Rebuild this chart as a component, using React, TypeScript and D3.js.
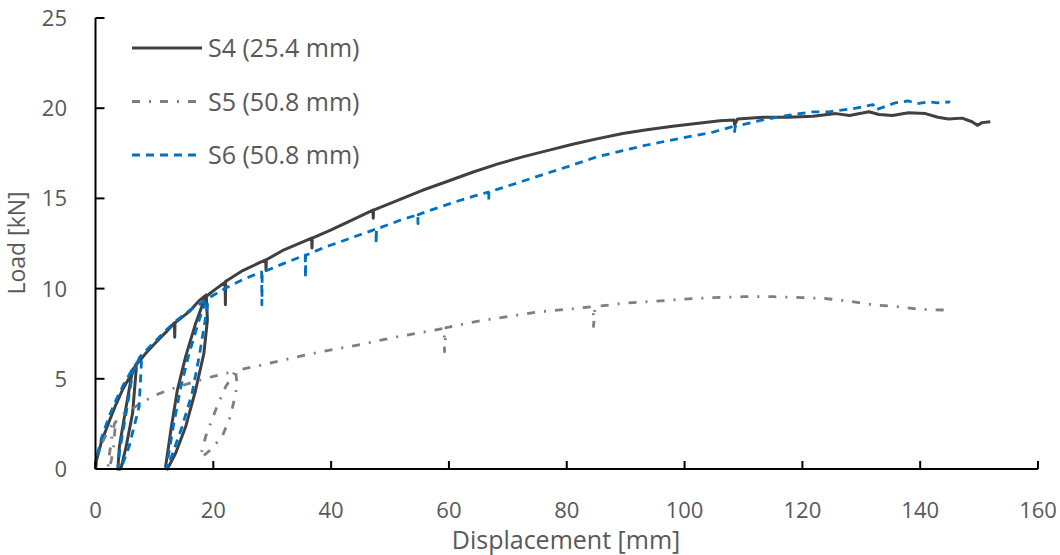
import React from "react";
import * as d3 from "d3";

// displacement [mm], load [kN]
const s4: [number, number][] = [
  [0, 0], [0.1, 0.4], [1.0, 1.5], [2.4, 2.7], [3.5, 3.6], [4.6, 4.4], [5.8, 5.1], [6.9, 5.7],
  [6.9, 5.5], [6.3, 3.1], [5.2, 1.24], [4.3, 0],
  [3.8, 0], [4.05, 1.24], [5.2, 3.45], [6.3, 5.5], [7.0, 5.8],
  [8.5, 6.4], [10.2, 7.0], [12, 7.6], [13.4, 8.1], [13.45, 7.3], [13.5, 8.1], [15.9, 8.72], [17.5, 9.3], [18.8, 9.65],
  [19.0, 8.26], [18.4, 6.41], [17.0, 4.38], [15.3, 2.34], [13.6, 0.87], [12.2, 0],
  [11.9, 0.13], [12.8, 2.16], [13.9, 4.38], [15.3, 6.23], [17.0, 8.07], [18.6, 9.5], [19.3, 9.7],
  [20.5, 10.0], [22.0, 10.35], [22.05, 9.1], [22.1, 10.4], [22.6, 10.5], [25, 11.0], [28.9, 11.6], [28.95, 11.0],
  [29, 11.6], [32, 12.15], [36.7, 12.8], [36.75, 12.25], [36.8, 12.8], [40, 13.25], [42.9, 13.7], [47.1, 14.35],
  [47.15, 13.9], [47.2, 14.35], [51.4, 14.9], [55.5, 15.45], [59.8, 15.95], [64, 16.45], [68.2, 16.9], [72.5, 17.3],
  [76.7, 17.65], [81, 18.0], [85.1, 18.3], [89.5, 18.6], [93.6, 18.8], [98, 19.0], [102, 19.15], [106, 19.3],
  [108.4, 19.35], [108.5, 19.1], [109, 19.4], [113.3, 19.5], [117.5, 19.5], [121.8, 19.55], [125.7, 19.7], [128, 19.6],
  [131.3, 19.8], [133, 19.65], [135.3, 19.6], [138, 19.75], [140.9, 19.7], [143, 19.5], [144.8, 19.4], [147.1, 19.45],
  [148.8, 19.25], [149.7, 19.05], [150.5, 19.2], [151.9, 19.25],
];

const s5: [number, number][] = [
  [0, 0], [0.3, 0.6], [0.9, 1.3], [1.8, 1.9], [2.7, 2.4], [3.2, 2.55],
  [3.3, 2.2], [3.1, 1.3], [2.7, 0.5], [2.3, 0],
  [2.1, 0], [2.4, 0.9], [2.8, 1.8], [3.2, 2.5], [3.6, 2.7],
  [4.5, 3.0], [6.3, 3.36], [8, 3.7], [10.2, 4.1], [13, 4.45], [15.9, 4.75], [19, 5.05], [22, 5.3], [23.8, 5.4],
  [24.0, 4.8], [23.8, 4.2], [22.9, 2.9], [21.5, 1.8], [19.5, 1.05], [18.1, 0.68],
  [17.8, 0.68], [18.7, 1.8], [20.4, 3.27], [22.1, 4.56], [23.5, 5.3], [24.5, 5.5],
  [28, 5.75], [32, 6.05], [36, 6.35], [40, 6.6], [45, 6.9], [50, 7.25], [55, 7.55], [59.2, 7.8], [59.25, 6.5],
  [59.5, 7.85], [60, 7.87], [65, 8.2], [70, 8.45], [75, 8.7], [80, 8.85], [84.5, 9.0], [84.55, 7.9], [84.8, 9.0],
  [90, 9.2], [95, 9.3], [100, 9.42], [105, 9.5], [110, 9.55], [115, 9.55], [120, 9.5], [124, 9.45], [128, 9.3],
  [132, 9.1], [136, 9.0], [140, 8.85], [145.3, 8.8],
];

const s6: [number, number][] = [
  [0, 0], [0.1, 0.5], [1.0, 1.7], [2.4, 3.0], [3.6, 3.9], [4.8, 4.7], [6.2, 5.5], [7.7, 6.22],
  [7.8, 5.9], [7.4, 3.45], [5.7, 1.24], [4.3, 0],
  [3.8, 0], [4.05, 0.9], [5.2, 3.1], [6.3, 5.3], [7.5, 6.2],
  [8.5, 6.55], [10.2, 7.1], [12, 7.7], [14, 8.3], [16, 8.8], [18, 9.2], [19.0, 9.4],
  [19.0, 9.0], [17.6, 6.23], [16.4, 4.2], [14.7, 2.34], [13.1, 0.87], [12.2, 0],
  [12.2, 0.4], [13.3, 2.53], [14.5, 4.56], [15.9, 6.41], [17.6, 8.26], [18.7, 9.3], [19.3, 9.5],
  [22.1, 10.03], [25, 10.5], [28.2, 10.92], [28.25, 9.1], [28.3, 10.9], [32, 11.4], [35.6, 11.86], [35.65, 10.6],
  [35.7, 11.85], [39, 12.3], [42.9, 12.75], [47.6, 13.3], [47.65, 12.5], [47.7, 13.3], [51.4, 13.75], [54.7, 14.1],
  [54.75, 13.6], [54.8, 14.1], [56.9, 14.35], [61.0, 14.8], [64.5, 15.15], [66.7, 15.35], [66.75, 14.9], [66.8, 15.35],
  [68.2, 15.5], [72.5, 15.95], [76.7, 16.4], [81, 16.85], [85.1, 17.3], [89.5, 17.65], [93.6, 17.96], [98, 18.25],
  [102, 18.5], [104.9, 18.68], [108.4, 19.0], [108.5, 18.7], [108.6, 19.0], [113.3, 19.35], [117.5, 19.6],
  [121.8, 19.8], [124.5, 19.8], [129.1, 20.0], [132, 20.2], [132.4, 19.9], [135.8, 20.3], [138, 20.4],
  [139.5, 20.25], [141.4, 20.35], [143, 20.3], [145.1, 20.35],
];

const xTicks = [0, 20, 40, 60, 80, 100, 120, 140, 160];
const yTicks = [0, 5, 10, 15, 20, 25];

const series = [
  { name: "S4 (25.4 mm)", data: s4, color: "#404040", dash: "none", w: 3 },
  { name: "S5 (50.8 mm)", data: s5, color: "#7f7f7f", dash: "8,9,2,9", w: 2.8 },
  { name: "S6 (50.8 mm)", data: s6, color: "#0070c0", dash: "8,6", w: 2.8 },
];

const font = "'Open Sans', sans-serif";
const textColor = "#595959";

export default function App() {
  const width = 1060;
  const height = 555;

  const x = d3.scaleLinear().domain([0, 160]).range([95.5, 1038]);
  const y = d3.scaleLinear().domain([0, 25]).range([469, 18]);

  const line = d3
    .line<[number, number]>()
    .x(d => x(d[0]))
    .y(d => y(d[1]));

  return (
    <svg
      width={width}
      height={height}
      style={{ position: "absolute", left: 0, top: 0, background: "#fff" }}
    >
      {series.map(s => (
        <path
          key={s.name}
          d={line(s.data) || ""}
          fill="none"
          stroke={s.color}
          strokeWidth={s.w}
          strokeDasharray={s.dash}
          strokeLinejoin="round"
        />
      ))}

      {/* axes */}
      <line x1={x(0)} x2={x(0)} y1={y(25)} y2={y(0)} stroke="#000" strokeWidth={2} />
      <line x1={x(0)} x2={x(160)} y1={y(0)} y2={y(0)} stroke="#000" strokeWidth={2} />
      {yTicks.map(t => (
        <g key={"y" + t}>
          <line x1={x(0)} x2={x(0) + 9} y1={y(t)} y2={y(t)} stroke="#000" strokeWidth={2} />
          <text
            x={67}
            y={y(t) + 8}
            textAnchor="end"
            fontFamily={font}
            fontSize={22}
            fill={textColor}
          >
            {t}
          </text>
        </g>
      ))}
      {xTicks.map(t => (
        <g key={"x" + t}>
          <line x1={x(t)} x2={x(t)} y1={y(0)} y2={y(0) - 8} stroke="#000" strokeWidth={2} />
          <text
            x={x(t)}
            y={518}
            textAnchor="middle"
            fontFamily={font}
            fontSize={22}
            fill={textColor}
          >
            {t}
          </text>
        </g>
      ))}

      <text x={566} y={549} textAnchor="middle" fontFamily={font} fontSize={25} fill={textColor}>
        Displacement [mm]
      </text>
      <text
        transform="translate(25,243) rotate(-90)"
        textAnchor="middle"
        fontFamily={font}
        fontSize={23}
        fill={textColor}
      >
        Load [kN]
      </text>

      {/* legend */}
      {series.map((s, i) => {
        const ly = 48 + i * 53.5;
        return (
          <g key={"leg" + s.name}>
            <line
              x1={132}
              x2={202}
              y1={ly}
              y2={ly}
              stroke={s.color}
              strokeWidth={s.w}
              strokeDasharray={s.dash}
            />
            <text x={208} y={ly + 9} fontFamily={font} fontSize={25} fill={textColor}>
              {s.name}
            </text>
          </g>
        );
      })}
    </svg>
  );
}
